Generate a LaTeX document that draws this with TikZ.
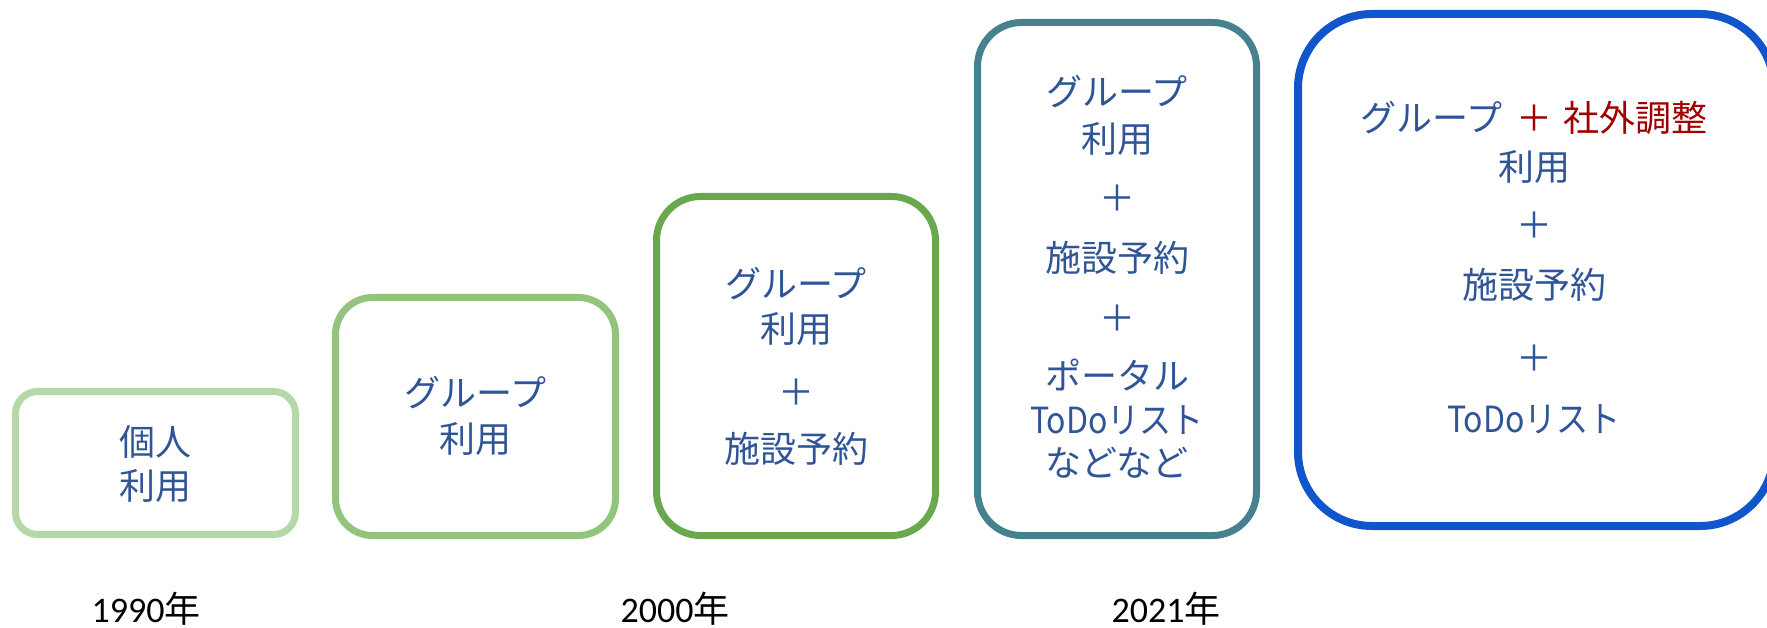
\documentclass[tikz,border=0pt]{standalone}
\usepackage{fontspec}
\usepackage{graphicx}
\setmainfont{Noto Sans CJK JP}
\newfontfamily\yrfont{Carlito}
\definecolor{cA}{HTML}{B6D7A8}
\definecolor{cB}{HTML}{93C47D}
\definecolor{cC}{HTML}{6AA84F}
\definecolor{cD}{HTML}{45818E}
\definecolor{cE}{HTML}{1155CC}
\definecolor{txtblue}{HTML}{2F5597}
\definecolor{txtred}{HTML}{A00000}
\newcommand{\todotxt}{\scalebox{0.89}[1]{ToDoリスト}}
\begin{document}
\begin{tikzpicture}[x=1pt,y=-1pt,
  era/.style={rectangle, draw=#1, inner sep=0pt, line width=7pt},
  lbl/.style={inner sep=0pt, text=txtblue, font=\fontsize{36}{40}\selectfont},
  yr/.style={inner sep=0pt, text=black, font=\fontsize{36}{40}\selectfont}]
\useasboundingbox (0,0) rectangle (1767,628);
\clip (0,0) rectangle (1767,628);
% boxes
\node[era=cA, rounded corners=22pt, minimum width=280pt, minimum height=143pt] (b1) at (155.5,463) {};
\node[era=cB, rounded corners=37pt, minimum width=280pt, minimum height=238pt] (b2) at (475.5,416.5) {};
\node[era=cC, rounded corners=44pt, minimum width=279pt, minimum height=339pt] (b3) at (796,366) {};
\node[era=cD, rounded corners=44pt, minimum width=279pt, minimum height=513pt] (b4) at (1117,279) {};
\node[era=cE, line width=8pt, rounded corners=74pt, minimum width=476pt, minimum height=512pt] (b5) at (1536,270) {};
% box 1
\node[lbl] (t1a) at (155.5,442) {個人};
\node[lbl] (t1b) at (155.5,486) {利用};
% box 2
\node[lbl] (t2a) at (475.5,393) {グループ};
\node[lbl] (t2b) at (475.5,439) {利用};
% box 3
\node[lbl] (t3a) at (796,284) {グループ};
\node[lbl] (t3b) at (796,329) {利用};
\node[lbl] (t3c) at (796,392) {＋};
\node[lbl] (t3d) at (796,449) {施設予約};
% box 4
\node[lbl] (t4a) at (1117,92) {グループ};
\node[lbl] (t4b) at (1117,139) {利用};
\node[lbl] (t4c) at (1117,198) {＋};
\node[lbl] (t4d) at (1117,258) {施設予約};
\node[lbl] (t4e) at (1117,318) {＋};
\node[lbl] (t4f) at (1117,375) {ポータル};
\node[lbl] (t4g) at (1117,420) {\todotxt};
\node[lbl] (t4h) at (1117,463) {などなど};
% box 5
\node[lbl] (t5a) at (1534,118) {グループ\hspace{14pt}{\color{txtred}＋\hspace{11pt}社外調整}};
\node[lbl] (t5b) at (1534,167) {利用};
\node[lbl] (t5c) at (1534,225) {＋};
\node[lbl] (t5d) at (1534,285) {施設予約};
\node[lbl] (t5e) at (1534,358) {＋};
\node[lbl] (t5f) at (1534,419) {\todotxt};
% years
\node[yr] (y1) at (146,609) {{\yrfont 1990}年};
\node[yr] (y2) at (675,609) {{\yrfont 2000}年};
\node[yr] (y3) at (1166,609) {{\yrfont 2021}年};
\end{tikzpicture}
\end{document}
